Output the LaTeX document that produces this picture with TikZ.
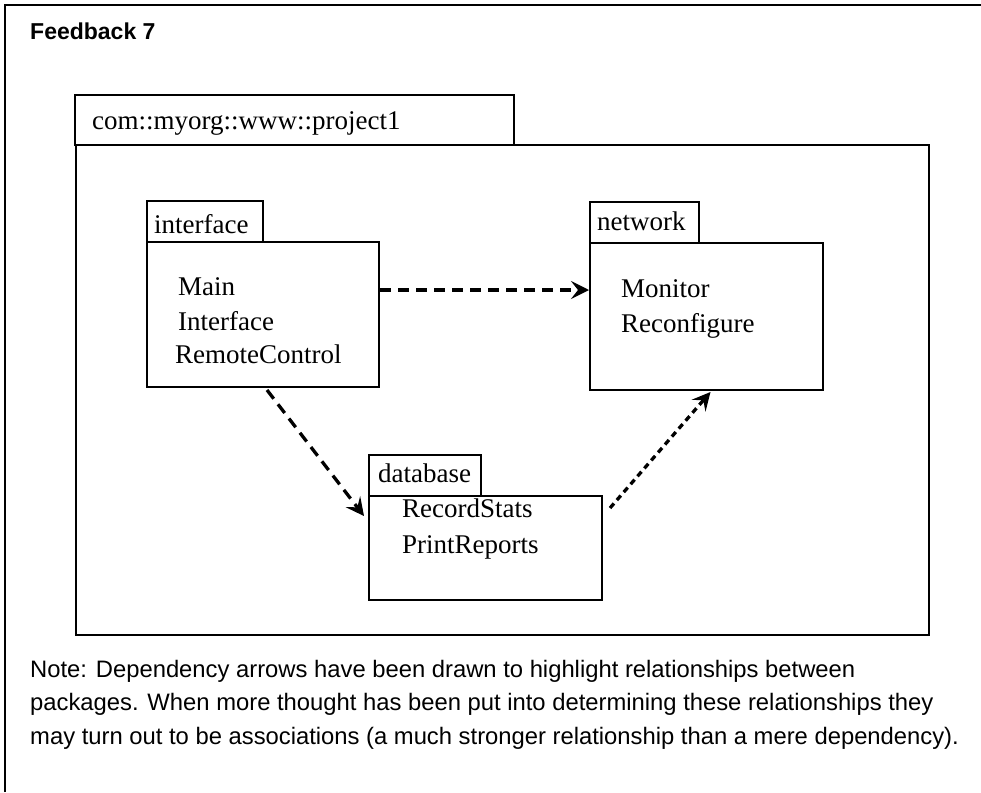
\documentclass[tikz,border=0pt]{standalone}
\usepackage{fontspec}
\setmainfont{Liberation Serif}
\newfontfamily\notesans{Liberation Sans}
\usetikzlibrary{arrows.meta,calc}
\tikzset{
  pkgbox/.style={draw, line width=1.3pt, anchor=north west, inner sep=0pt, outer sep=0pt},
  lbl/.style={anchor=base west, inner sep=0pt, font=\fontsize{27}{30}\selectfont},
  notetxt/.style={anchor=base west, inner sep=0pt, font=\notesans\fontsize{23.8}{27}\selectfont},
  dep/.style={line width=3.3pt, dash pattern=on 11pt off 7pt, -{Stealth[length=18pt,width=18pt,inset=7pt]}},
  depdot/.style={line width=3.3pt, dash pattern=on 6pt off 4.5pt, -{Stealth[length=18pt,width=18pt,inset=7pt]}}
}
\begin{document}
\begin{tikzpicture}[x=1pt,y=-1pt]
\useasboundingbox (0,0) rectangle (981,792);
\fill[white] (0,0) rectangle (981,792);
% outer frame (only top and left edges visible)
\draw[line width=2.2pt] (5,792) -- (5,5) -- (981,5);
\node[anchor=base west, inner sep=0pt, font=\notesans\bfseries\fontsize{23}{26}\selectfont] (title) at (30,40) {Feedback 7};

% outer package
\node[pkgbox, minimum width=439pt, minimum height=50pt] (otab) at (75,95) {};
\node[pkgbox, minimum width=853pt, minimum height=490pt] (obody) at (76,145) {};
\node[lbl] (olbl) at (92,129) {com::myorg::www::project1};

% interface package
\node[pkgbox, minimum width=116pt, minimum height=41pt] (itab) at (147,201) {};
\node[pkgbox, minimum width=232pt, minimum height=145pt] (ibody) at (147,242) {};
\node[lbl] (ilbl) at (154,233) {interface};
\node[lbl] (imain) at (178,295) {Main};
\node[lbl] (iintf) at (178,330) {Interface};
\node[lbl] (iremote) at (175,363) {RemoteControl};

% network package
\node[pkgbox, minimum width=109pt, minimum height=41pt] (ntab) at (590,202) {};
\node[pkgbox, minimum width=233pt, minimum height=147pt] (nbody) at (590,243) {};
\node[lbl] (nlbl) at (597,230) {network};
\node[lbl] (nmon) at (621,297) {Monitor};
\node[lbl] (nrec) at (621,332) {Reconfigure};

% database package
\node[pkgbox, minimum width=112pt, minimum height=41pt] (dtab) at (369,455) {};
\node[pkgbox, minimum width=233pt, minimum height=104pt] (dbody) at (369,496) {};
\node[lbl] (dlbl) at (378,482) {database};
\node[lbl] (drec) at (402,517) {RecordStats};
\node[lbl] (dprint) at (402,553) {PrintReports};

% dependencies
\draw[dep] ($(ibody.north east)+(1,48)$) -- ($(nbody.north west)+(-1,47)$);
\draw[dep] ($(ibody.south)+(4,3)$) -- ($(dbody.north west)+(-5,20)$);
\draw[depdot] ($(dbody.north east)+(8,12)$) -- ($(nbody.south)+(4,2)$);

% note
\node[notetxt] (n1) at (30,677) {Note: Dependency arrows have been drawn to highlight relationships between};
\node[notetxt] (n2) at (30,710) {packages. When more thought has been put into determining these relationships they};
\node[notetxt] (n3) at (30,744) {may turn out to be associations (a much stronger relationship than a mere dependency).};
\end{tikzpicture}
\end{document}
